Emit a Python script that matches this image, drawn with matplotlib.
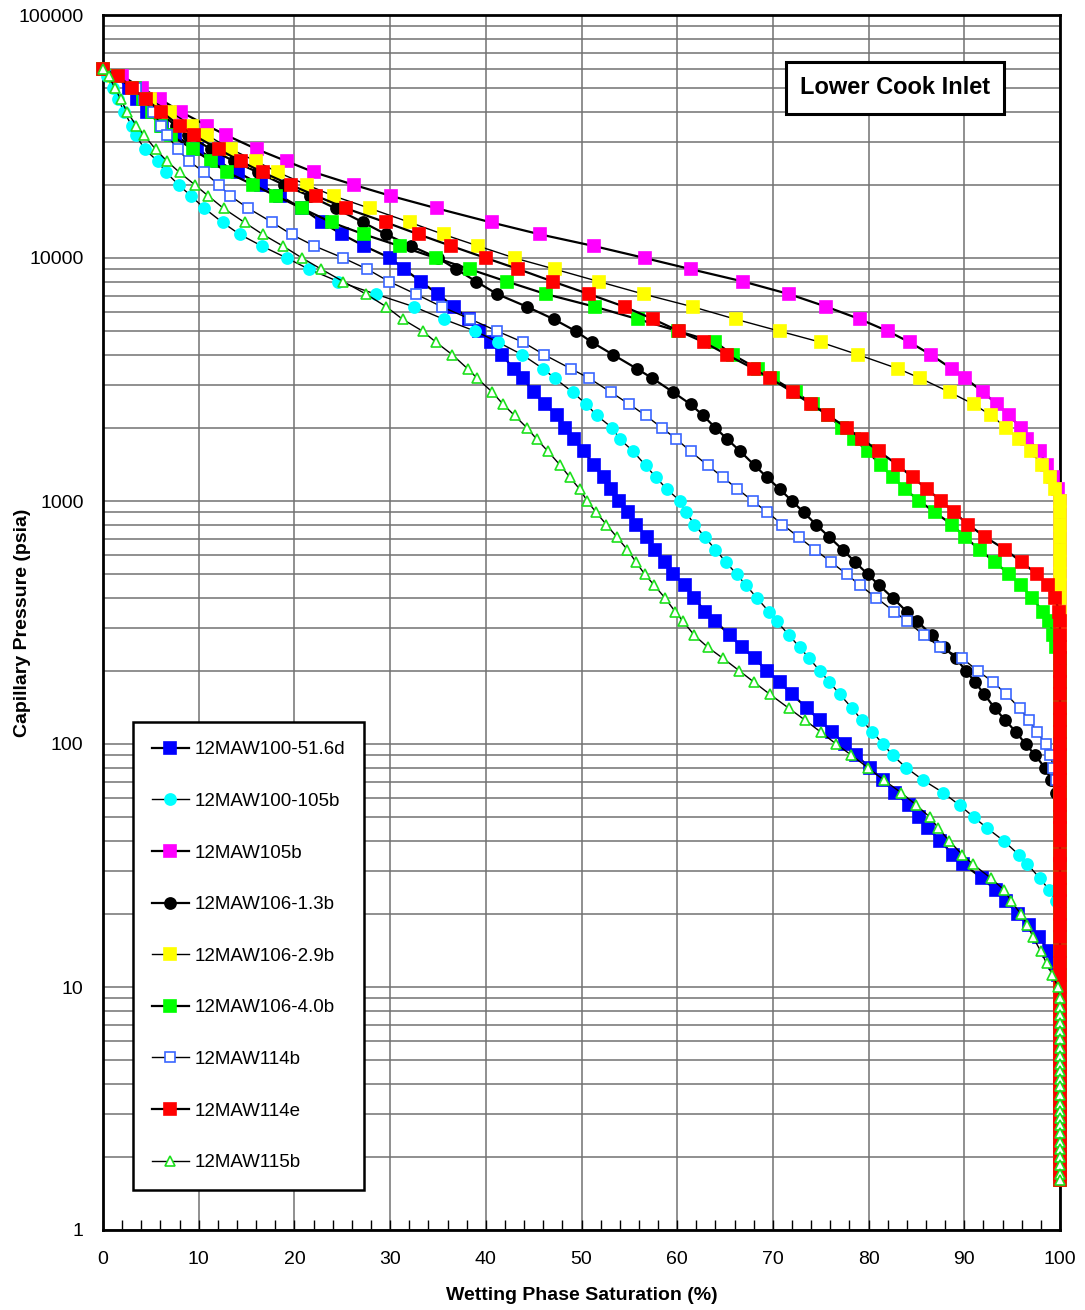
import numpy as np
import matplotlib
matplotlib.use("Agg")
import matplotlib.pyplot as plt
from matplotlib.ticker import FixedLocator, LogLocator, NullFormatter

plt.rcParams["font.family"] = ["Liberation Sans", "DejaVu Sans"]

# capillary pressure steps (psia), shared by all samples
p_psia = [
    60000, 56000, 50000, 45000, 40000, 35000, 32000, 28000, 25000, 22500,
    20000, 18000, 16000, 14000, 12500, 11200, 10000,
    9000, 8000, 7100, 6300, 5600, 5000, 4500, 4000, 3500, 3200,
    2800, 2500, 2250, 2000, 1800, 1600, 1400, 1250, 1120, 1000,
    900, 800, 710, 630, 560, 500, 450, 400, 350, 320,
    280, 250, 225, 200, 180, 160, 140, 125, 112, 100,
    90, 80, 71, 63, 56, 50, 45, 40, 35, 32,
    28, 25, 22.5, 20, 18, 16, 14, 12.5, 11.2, 10,
    9.0, 8.3, 7.7, 7.1, 6.6, 6.1, 5.6, 5.2, 4.8, 4.5, 4.2, 3.9,
    3.6, 3.3, 3.1, 2.9, 2.7, 2.5, 2.3, 2.15, 2.0, 1.85, 1.7, 1.6,
]

# wetting phase saturation (%) at each pressure step; once 100 it stays 100
sw_51_6d = [
    0, 1.3, 2.7, 3.6, 4.6, 6.2, 7.5, 9.8, 12.0, 14.1, 16.5, 18.5, 20.8, 22.9, 25.0, 27.3, 30.0,
    31.5, 33.2, 35.0, 36.7, 38.2, 39.3, 40.5, 41.7, 42.9, 43.9, 45.0, 46.2, 47.4, 48.3, 49.2, 50.3, 51.3, 52.3, 53.1, 53.9,
    54.9, 55.7, 56.8, 57.7, 58.7, 59.6, 60.8, 61.8, 62.9, 64.0, 65.5, 66.8, 68.1, 69.4, 70.7, 72.0, 73.6, 74.9, 76.2, 77.5,
    78.7, 80.1, 81.5, 82.8, 84.2, 85.3, 86.2, 87.5, 88.8, 89.9, 91.9, 93.3, 94.4, 95.6, 96.8, 97.8, 98.9, 99.5, 99.8, 100,
]
sw_105b_100 = [
    0, 0.4, 1.0, 1.6, 2.2, 3.0, 3.4, 4.4, 5.7, 6.6, 7.9, 9.2, 10.6, 12.5, 14.3, 16.6, 19.2,
    21.5, 24.6, 28.5, 32.5, 35.6, 38.9, 41.3, 43.8, 46.0, 47.2, 49.1, 50.5, 51.6, 53.2, 54.0, 55.4, 56.7, 57.8, 58.9, 60.3,
    60.9, 61.8, 62.9, 64.0, 65.1, 66.2, 67.2, 68.3, 69.6, 70.4, 71.7, 72.8, 73.8, 74.9, 75.9, 77.0, 78.3, 79.3, 80.4, 81.5,
    82.5, 83.9, 85.7, 87.8, 89.5, 91.0, 92.4, 94.1, 95.7, 96.6, 97.9, 98.9, 99.6, 100,
]
sw_105b = [
    0, 2.0, 4.1, 6.0, 8.1, 10.9, 12.9, 16.1, 19.2, 22.1, 26.2, 30.1, 34.9, 40.6, 45.7, 51.3, 56.6,
    61.4, 66.9, 71.7, 75.6, 79.1, 82.0, 84.3, 86.5, 88.7, 90.1, 92.0, 93.4, 94.7, 95.9, 96.6, 97.9, 98.6, 99.3, 99.8, 100,
]
sw_106_13 = [
    0, 1.5, 3.2, 4.5, 5.8, 7.6, 8.9, 11.3, 13.7, 16.2, 18.9, 21.6, 24.3, 27.2, 29.6, 32.2, 35.0,
    36.9, 39.0, 41.2, 44.3, 47.1, 49.4, 51.1, 53.3, 55.8, 57.4, 59.6, 61.4, 62.7, 64.0, 65.2, 66.6, 68.1, 69.4, 70.7, 72.0,
    73.2, 74.5, 75.9, 77.3, 78.6, 79.9, 81.1, 82.5, 84.0, 85.1, 86.6, 87.9, 89.1, 90.2, 91.1, 92.1, 93.2, 94.3, 95.4, 96.4,
    97.4, 98.4, 99.1, 99.6, 100,
]
sw_106_29 = [
    0, 1.2, 3.1, 4.9, 7.0, 9.3, 10.9, 13.4, 16.0, 18.3, 21.3, 24.1, 27.9, 32.1, 35.6, 39.2, 43.0,
    47.2, 51.8, 56.5, 61.6, 66.1, 70.7, 75.0, 78.9, 83.1, 85.4, 88.5, 91.0, 92.8, 94.4, 95.7, 97.0, 98.1, 99.0, 99.5, 100,
]
sw_106_40 = [
    0, 1.4, 3.3, 4.2, 5.1, 6.1, 7.1, 9.4, 11.3, 13.0, 15.7, 18.1, 20.8, 23.9, 27.3, 31.0, 34.8,
    38.3, 42.2, 46.3, 51.4, 55.9, 60.1, 64.0, 65.8, 68.4, 70.0, 72.4, 74.2, 75.8, 77.2, 78.5, 79.9, 81.3, 82.6, 83.8, 85.3,
    86.9, 88.7, 90.1, 91.6, 93.2, 94.7, 95.9, 97.1, 98.2, 98.9, 99.3, 99.6, 100,
]
sw_114b = [
    0, 1.0, 3.4, 4.3, 5.2, 6.1, 6.7, 7.8, 9.0, 10.6, 12.1, 13.3, 15.2, 17.7, 19.7, 22.1, 25.1,
    27.6, 29.9, 32.7, 35.4, 38.4, 41.2, 43.9, 46.1, 48.9, 50.8, 53.1, 55.0, 56.7, 58.4, 59.9, 61.4, 63.2, 64.8, 66.3, 67.9,
    69.4, 71.0, 72.7, 74.4, 76.1, 77.7, 79.1, 80.8, 82.7, 84.0, 85.8, 87.5, 89.8, 91.4, 93.0, 94.4, 95.8, 96.8, 97.6, 98.5,
    99.0, 99.3, 99.6, 100,
]
sw_114e = [
    0, 1.6, 3.0, 4.5, 6.1, 8.0, 9.5, 12.1, 14.4, 16.7, 19.6, 22.3, 25.4, 29.6, 33.0, 36.4, 40.0,
    43.4, 47.0, 50.8, 54.5, 57.5, 60.2, 62.8, 65.2, 68.0, 69.7, 72.1, 74.0, 75.8, 77.7, 79.3, 81.1, 83.1, 84.6, 86.1, 87.6,
    88.9, 90.4, 92.2, 94.3, 96.0, 97.6, 98.7, 99.5, 99.9, 100,
]
sw_115b = [
    0, 0.6, 1.25, 1.85, 2.5, 3.5, 4.3, 5.5, 6.7, 8.0, 9.6, 11.0, 12.6, 14.8, 16.7, 18.8, 20.8,
    22.8, 25.1, 27.5, 29.6, 31.3, 33.4, 34.8, 36.5, 38.1, 39.1, 40.7, 41.8, 43.0, 44.3, 45.3, 46.5, 47.8, 48.8, 49.8, 50.6,
    51.5, 52.6, 53.7, 54.8, 55.7, 56.6, 57.6, 58.7, 59.8, 60.6, 61.8, 63.2, 64.8, 66.5, 68.0, 69.7, 71.7, 73.4, 75.0, 76.6,
    78.2, 79.9, 81.6, 83.4, 85.0, 86.4, 87.3, 88.4, 89.8, 90.9, 92.8, 94.2, 94.9, 95.9, 96.6, 97.2, 98.0, 98.6, 99.2, 99.8,
]

sample_names = ["12MAW100-51.6d", "12MAW100-105b", "12MAW105b", "12MAW106-1.3b", "12MAW106-2.9b",
                "12MAW106-4.0b", "12MAW114b", "12MAW114e", "12MAW115b"]
sample_sw = [sw_51_6d, sw_105b_100, sw_105b, sw_106_13, sw_106_29, sw_106_40, sw_114b, sw_114e, sw_115b]

# marker, face, edge, line width
styles = [
    ("s", "#0000ff", "#0000ff", 1.6),
    ("o", "#00ffff", "#00ffff", 1.0),
    ("s", "#ff00ff", "#ff00ff", 1.6),
    ("o", "#000000", "#000000", 1.6),
    ("s", "#ffff00", "#ffff00", 1.0),
    ("s", "#00ff00", "#00ff00", 1.6),
    ("s", "#ffffff", "#3a66ff", 1.0),
    ("s", "#ff0000", "#ff0000", 1.6),
    ("^", "#ffffff", "#1ee01e", 1.0),
]

fig = plt.figure(figsize=(10.85, 13.10), dpi=100)
ax = fig.add_axes([103 / 1085, 80 / 1310, 957 / 1085, 1215 / 1310])

p = np.array(p_psia, dtype=float)
for name, sw, (mk, fc, ec, lw) in zip(sample_names, sample_sw, styles):
    sw_full = np.array(sw + [100.0] * (len(p) - len(sw)))
    if mk == "o":
        ms = 8.0
    elif fc == "#ffffff":
        ms = 7.6
    else:
        ms = 8.2
    ax.plot(sw_full, p, color="black", lw=lw, marker=mk, ms=ms,
            mfc=fc, mec=ec, mew=1.2, label=name, clip_on=False, zorder=3)

ax.set_yscale("log")
ax.set_xlim(0, 100)
ax.set_ylim(1, 100000)

ax.xaxis.set_major_locator(FixedLocator(np.arange(0, 101, 10)))
ax.xaxis.set_minor_locator(FixedLocator(np.arange(0, 101, 2)))
ax.tick_params(axis="x", which="both", direction="in", top=False, labelsize=14, pad=15)
ax.tick_params(axis="x", which="major", length=7, width=1)
ax.tick_params(axis="x", which="minor", length=7, width=1)

ax.yaxis.set_major_locator(FixedLocator([1, 10, 100, 1000, 10000, 100000]))
ax.set_yticklabels(["1", "10", "100", "1000", "10000", "100000"])
ax.yaxis.set_minor_locator(LogLocator(base=10, subs=np.arange(2, 10)))
ax.yaxis.set_minor_formatter(NullFormatter())
ax.tick_params(axis="y", which="both", length=0, labelsize=14, pad=14)

ax.grid(True, axis="x", which="major", color="#727272", lw=1.1)
ax.grid(True, axis="y", which="both", color="#727272", lw=1.1)
ax.set_axisbelow(True)
for s in ax.spines.values():
    s.set_linewidth(2.0)
    s.set_color("black")

ax.set_xlabel("Wetting Phase Saturation (%)", fontsize=14, fontweight="bold", labelpad=14)
ax.set_ylabel("Capillary Pressure (psia)", fontsize=14, fontweight="bold")
ax.yaxis.set_label_coords(-0.0755, 0.5)

ax.text(0.8276, 0.94, "Lower Cook Inlet", transform=ax.transAxes, fontsize=17, fontweight="bold",
        ha="center", va="center", zorder=5,
        bbox=dict(boxstyle="square,pad=0.6", fc="white", ec="black", lw=2.2))

leg = ax.legend(loc="lower left", bbox_to_anchor=(0.0313, 0.0329), borderaxespad=0,
                fontsize=13.5, labelspacing=1.84, handlelength=2.0, handletextpad=0.3,
                borderpad=1.0, numpoints=1, fancybox=False, framealpha=1)
leg.get_frame().set_edgecolor("black")
leg.get_frame().set_linewidth(1.8)
leg.set_zorder(6)

fig.savefig("out.png", dpi=100)
